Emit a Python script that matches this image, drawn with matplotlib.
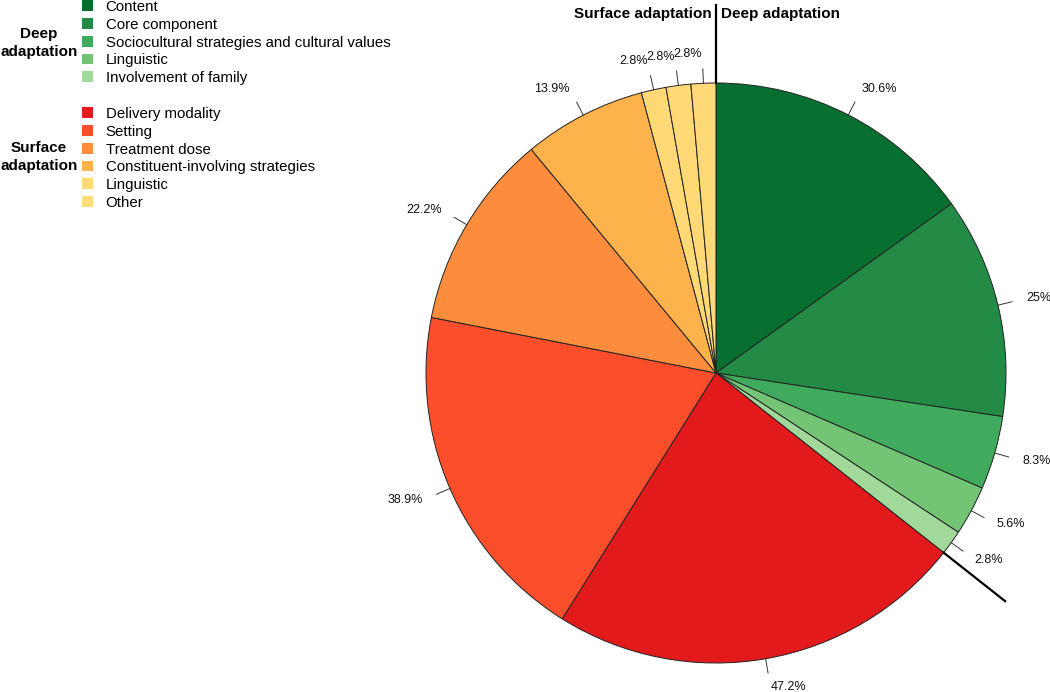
import numpy as np
import matplotlib.pyplot as plt
from matplotlib.patches import Patch

plt.rcParams['font.family'] = ['Liberation Sans', 'DejaVu Sans']

# deep adaptation slices (clockwise from 12 o'clock)
deep_labels = ["Content", "Core component", "Sociocultural strategies and cultural values",
               "Linguistic", "Involvement of family"]
deep_values = [30.6, 25, 8.3, 5.6, 2.8]
deep_colors = ["#077030", "#238b45", "#41ab5d", "#74c476", "#a1d99b"]

# surface adaptation slices
surf_labels = ["Delivery modality", "Setting", "Treatment dose",
               "Constituent-involving strategies", "Linguistic", "Other"]
surf_values = [47.2, 38.9, 22.2, 13.9, 2.8, 2.8, 2.8]
surf_colors = ["#e31a1c", "#fc4e2a", "#fd8d3c", "#feb24c", "#fed976", "#fed976", "#fed976"]
legend_surf_colors = ["#e31a1c", "#fc4e2a", "#fd8d3c", "#feb24c", "#fed976", "#fedb7d"]

values = deep_values + surf_values
colors = deep_colors + surf_colors

W, H = 1050, 692
fig = plt.figure(figsize=(W / 100, H / 100), dpi=100)
ax = fig.add_axes([0, 0, 1, 1])

cx, cy, R = 716, H - 373, 290
wedges, _ = ax.pie(values, colors=colors, startangle=90, counterclock=False,
                   center=(cx, cy), radius=R,
                   wedgeprops=dict(edgecolor="#222222", linewidth=0.7))
ax.set_xlim(0, W)
ax.set_ylim(0, H)
ax.set_aspect("equal")
ax.axis("off")

# percentage labels, R-style: tick 1.0 -> 1.05, text at 1.1
for w, v in zip(wedges, values):
    mid = np.deg2rad((w.theta1 + w.theta2) / 2)
    c, s = np.cos(mid), np.sin(mid)
    ax.plot([cx + R * c, cx + 1.05 * R * c], [cy + R * s, cy + 1.05 * R * s],
            color="#333333", lw=0.7)
    txt = f"{v:g}%"
    ax.text(cx + 1.1 * R * c, cy + 1.1 * R * s, txt, fontsize=9,
            ha="left" if c > 0 else "right", va="center", color="#111111")

# divider lines between deep and surface adaptation
n_deep = len(deep_values)
for ang in [wedges[0].theta2, wedges[n_deep - 1].theta1]:
    a = np.deg2rad(ang)
    ax.plot([cx + R * np.cos(a), cx + 1.27 * R * np.cos(a)],
            [cy + R * np.sin(a), cy + 1.27 * R * np.sin(a)], color="black", lw=1.6)

ax.text(cx - 4, H - 14, "Surface adaptation", fontsize=11, fontweight="bold",
        ha="right", va="center")
ax.text(cx + 5, H - 14, "Deep adaptation", fontsize=11, fontweight="bold",
        ha="left", va="center")

# legends
leg_kw = dict(loc="upper left", frameon=False, fontsize=10.8, handlelength=0.72,
              handleheight=0.72, handletextpad=0.85, labelspacing=0.25,
              borderpad=0, borderaxespad=0)
h_deep = [Patch(facecolor=c, edgecolor="none") for c in deep_colors]
h_surf = [Patch(facecolor=c, edgecolor="none") for c in legend_surf_colors]
leg1 = fig.legend(h_deep, deep_labels, bbox_to_anchor=(82 / W, 1 + 0 / H), **leg_kw)
leg2 = fig.legend(h_surf, surf_labels, bbox_to_anchor=(82 / W, 1 - 107 / H), **leg_kw)

ax.text(39, H - 43, "Deep\nadaptation", fontsize=11, fontweight="bold",
        ha="center", va="center", linespacing=1.4)
ax.text(39, H - 157, "Surface\nadaptation", fontsize=11, fontweight="bold",
        ha="center", va="center", linespacing=1.4)

fig.savefig("out.png", dpi=100)
